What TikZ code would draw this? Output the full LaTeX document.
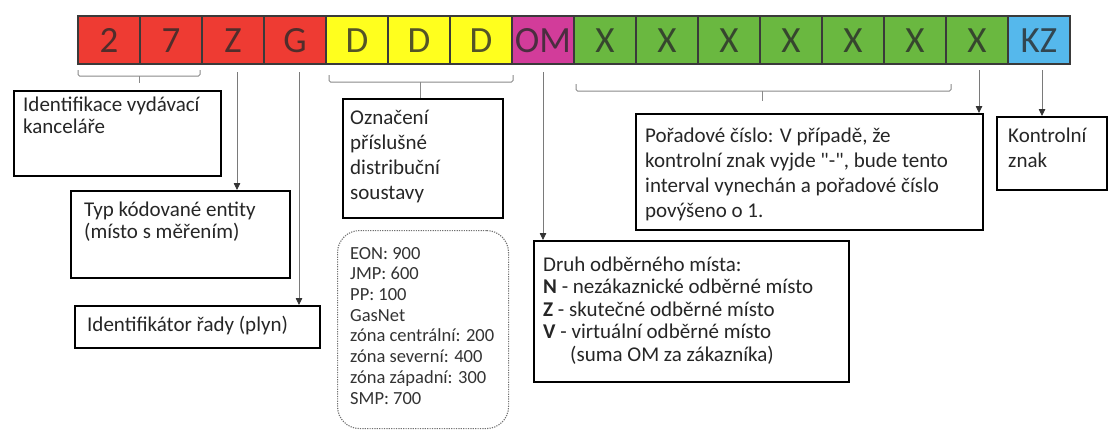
\documentclass[tikz,border=0pt]{standalone}
\usepackage{fontspec}
\setmainfont{Carlito}[Ligatures=TeXOff]
\usetikzlibrary{arrows.meta}
\definecolor{cred}{HTML}{EE3B33}
\definecolor{cyel}{HTML}{FFFF1E}
\definecolor{cmag}{HTML}{D23C9A}
\definecolor{cgrn}{HTML}{6AB840}
\definecolor{cblu}{HTML}{55B8EC}
\definecolor{cellline}{HTML}{3A3A3A}
\definecolor{celltext}{HTML}{2A2A2A}
\definecolor{linegray}{HTML}{7A7A7A}
\definecolor{arrowdark}{HTML}{333333}
\definecolor{brkgray}{HTML}{8A8A8A}
\definecolor{dotgray}{HTML}{707070}
\begin{document}
\begin{tikzpicture}[x=1pt,y=-1pt,
  cell/.style={draw=cellline, line width=1.6pt, minimum width=62pt, minimum height=48pt,
    inner sep=0pt, font=\fontsize{37}{37}\selectfont, text=celltext, text opacity=0.8,
    text height=24pt, text depth=0pt},
  frame/.style={draw=black, line width=1.5pt, inner sep=0pt, anchor=north west},
  txt/.style={anchor=north west, inner sep=0pt, align=left, text=black!85,
    font=\fontsize{21}{22.5}\selectfont},
  arr/.style={draw=linegray, line width=0.8pt,
    -{Triangle[width=6.5pt,length=7pt,color=arrowdark]}},
  brk/.style={draw=brkgray, line width=1pt, rounded corners=1.5pt}
]
\useasboundingbox (0,0) rectangle (1108,429);
\fill[white] (0,0) rectangle (1108,429);

% code strip
\node[cell, fill=cred] (c1)  at (109,40) {2};
\node[cell, fill=cred] (c2)  at (171,40) {7};
\node[cell, fill=cred] (c3)  at (233,40) {Z};
\node[cell, fill=cred] (c4)  at (295,40) {G};
\node[cell, fill=cyel] (c5)  at (357,40) {D};
\node[cell, fill=cyel] (c6)  at (419,40) {D};
\node[cell, fill=cyel] (c7)  at (481,40) {D};
\node[cell, fill=cmag] (c8)  at (543,40) {OM};
\node[cell, fill=cgrn] (c9)  at (605,40) {X};
\node[cell, fill=cgrn] (c10) at (667,40) {X};
\node[cell, fill=cgrn] (c11) at (729,40) {X};
\node[cell, fill=cgrn] (c12) at (791,40) {X};
\node[cell, fill=cgrn] (c13) at (853,40) {X};
\node[cell, fill=cgrn] (c14) at (915,40) {X};
\node[cell, fill=cgrn] (c15) at (977,40) {X};
\node[cell, fill=cblu] (c16) at (1039,40) {KZ};

% boxes
\node[frame, minimum width=207pt, minimum height=85pt]  (ident) at (13,90) {};
\node[frame, minimum width=219pt, minimum height=87pt]  (typ)   at (70,190) {};
\node[frame, minimum width=245pt, minimum height=42pt]  (rad)   at (74,305) {};
\node[frame, minimum width=160pt, minimum height=119pt] (ozn)   at (342,98) {};
\node[frame, draw=dotgray, line width=1.1pt, dash pattern=on 1.2pt off 1.2pt,
      rounded corners=22pt, minimum width=171pt, minimum height=198pt] (dso) at (337,230) {};
\node[frame, minimum width=315pt, minimum height=141pt] (druh)  at (533,240) {};
\node[frame, minimum width=347pt, minimum height=116pt] (por)   at (635,113) {};
\node[frame, minimum width=110pt, minimum height=73pt]  (kz)    at (996,116) {};

% texts
\node[txt] (identT) at (23,95.25) {\strut Identifikace vydávací\\kanceláře};
\node[txt] (typT) at (84,200.25) {\strut Typ kódované entity\\(místo s měřením)};
\node[txt] (radT) at (87,315.25) {\strut Identifikátor řady (plyn)};
\node[txt, font=\fontsize{21}{25}\selectfont] (oznT) at (350,106.5)
  {\strut Označení\\příslušné\\distribuční\\soustavy};
\node[txt, font=\fontsize{18.5}{20.7}\selectfont, text=black!80] (dsoT) at (350,244.5)
  {\strut EON: 900\\JMP: 600\\PP: 100\\GasNet\\zóna centrální: 200\\zóna severní: 400\\zóna západní: 300\\SMP: 700};
\node[txt] (druhT) at (543,255.25)
  {\strut Druh odběrného místa:\\\textbf{N} - nezákaznické odběrné místo\\\textbf{Z} - skutečné odběrné místo\\\textbf{V} - virtuální odběrné místo\\\hspace*{27pt}(suma OM za zákazníka)};
\node[txt, font=\fontsize{21}{25}\selectfont] (porT) at (645,124.5)
  {\strut Pořadové číslo: V případě, že\\kontrolní znak vyjde "-", bude tento\\interval vynechán a pořadové číslo\\povýšeno o 1.};
\node[txt, font=\fontsize{21}{25}\selectfont] (kzT) at (1008,124.5) {\strut Kontrolní\\znak};

% brackets
\draw[brk] (78,70) -- (78,76) -- (200,76) -- (200,70);
\coordinate (b1) at (139,76);
\draw[brk] (b1) -- ++(0,7);
\draw[brk] (329,75) -- (329,82) -- (513,82) -- (513,75);
\coordinate (b2) at (420,82);
\draw[brk] (b2) -- (b2 |- ozn.north);
\draw[brk] (576,84) -- (576,91) -- (951,91) -- (951,84);
\coordinate (b3) at (762,91);
\draw[brk] (b3) -- ++(0,10);

% arrows
\coordinate (aZ) at (237,72);
\coordinate (aG) at (299,72);
\coordinate (aOM) at (543,72);
\coordinate (aX) at (979,70);
\coordinate (aKZ) at (1042,70);
\draw[arr] (aZ) -- (aZ |- typ.north);
\draw[arr] (aG) -- (aG |- rad.north);
\draw[arr] (aOM) -- (aOM |- druh.north);
\draw[arr] (aX) -- (aX |- por.north);
\draw[arr] (aKZ) -- (aKZ |- kz.north);
\end{tikzpicture}
\end{document}
